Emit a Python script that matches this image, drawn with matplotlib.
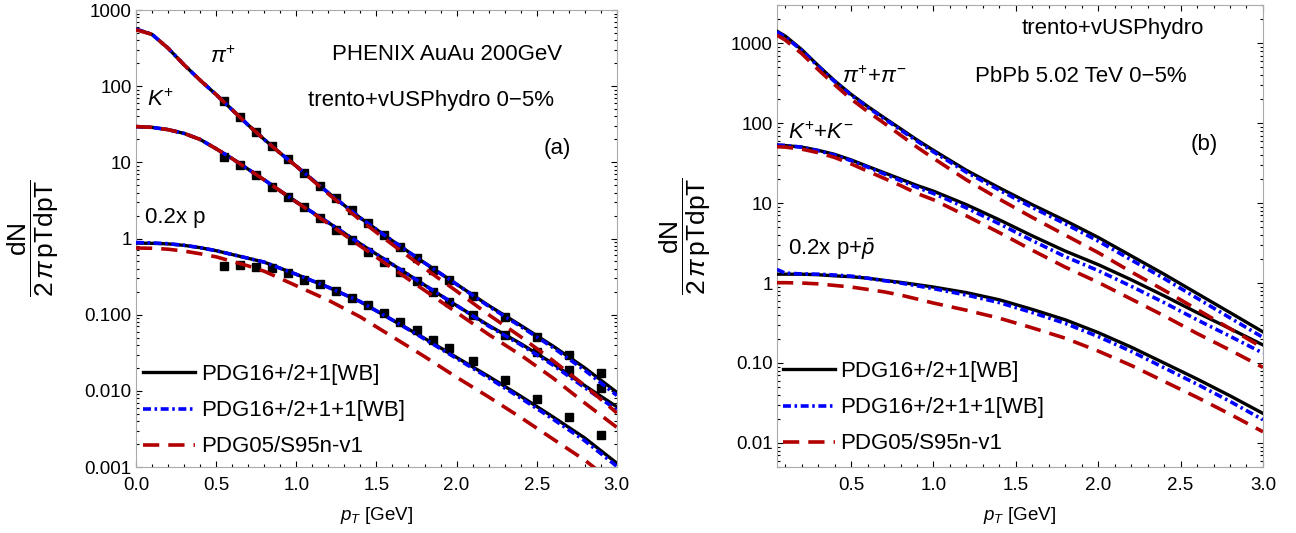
import numpy as np
import matplotlib.pyplot as plt
from matplotlib.ticker import MultipleLocator, LogLocator, NullFormatter

plt.rcParams['font.family'] = 'Liberation Sans'
plt.rcParams['mathtext.fontset'] = 'custom'
plt.rcParams['mathtext.rm'] = 'Liberation Sans'
plt.rcParams['mathtext.it'] = 'Liberation Sans:italic'
plt.rcParams['mathtext.bf'] = 'Liberation Sans:bold'

# ---------------- panel (a): PHENIX AuAu 200 GeV ----------------
pt_a = [0.0, 0.1, 0.2, 0.3, 0.4, 0.5, 0.6, 0.7, 0.8, 0.9, 1.0,
        1.2, 1.4, 1.6, 1.8, 2.0, 2.2, 2.4, 2.6, 2.8, 3.0]

pi_a_wb = [562, 479, 316, 191, 120, 77.6, 49.0, 30.9, 20.0, 13.2, 8.91,
           3.98, 1.86, 0.933, 0.479, 0.251, 0.132, 0.0724, 0.0389, 0.0200, 0.00955]
pi_a_wb1 = [562, 479, 316, 191, 120, 77.6, 49.0, 30.9, 20.0, 13.2, 8.91,
            3.98, 1.86, 0.933, 0.479, 0.251, 0.129, 0.0700, 0.0372, 0.0186, 0.0087]
pi_a_s95 = [550, 479, 316, 191, 120, 77.6, 49.0, 30.9, 20.0, 13.2, 8.91,
            3.85, 1.74, 0.832, 0.407, 0.204, 0.100, 0.0513, 0.0251, 0.0117, 0.00513]

k_a_wb = [29.5, 28.8, 26.9, 24.0, 20.0, 15.1, 11.2, 8.13, 5.89, 4.22, 3.02,
          1.62, 0.851, 0.457, 0.245, 0.132, 0.0724, 0.0417, 0.0229, 0.0117, 0.00617]
k_a_wb1 = [29.5, 28.8, 26.9, 24.0, 20.0, 15.1, 11.2, 8.13, 5.89, 4.22, 3.02,
           1.62, 0.851, 0.457, 0.245, 0.132, 0.0708, 0.0403, 0.0219, 0.0110, 0.00562]
k_a_s95 = [29.5, 28.8, 26.9, 24.0, 20.0, 15.1, 11.2, 8.13, 5.89, 4.22, 3.02,
           1.57, 0.794, 0.407, 0.209, 0.107, 0.0550, 0.0295, 0.0148, 0.00692, 0.00331]

p_a_wb = [0.871, 0.865, 0.851, 0.813, 0.759, 0.692, 0.617, 0.550, 0.490, 0.407, 0.339,
          0.229, 0.148, 0.0851, 0.0490, 0.0275, 0.0155, 0.00851, 0.00457, 0.00240, 0.00112]
p_a_wb1 = [0.885, 0.875, 0.855, 0.815, 0.759, 0.692, 0.617, 0.550, 0.490, 0.407, 0.339,
           0.229, 0.148, 0.0851, 0.0479, 0.0266, 0.0148, 0.00804, 0.00427, 0.00221, 0.00102]
p_a_s95 = [0.750, 0.745, 0.724, 0.684, 0.631, 0.575, 0.501, 0.437, 0.372, 0.299, 0.240,
           0.155, 0.0933, 0.0513, 0.0282, 0.0151, 0.00832, 0.00447, 0.00234, 0.00123, 0.000575]

# PHENIX data points
pt_data = [0.55, 0.65, 0.75, 0.85, 0.95, 1.05, 1.15, 1.25, 1.35, 1.45,
           1.55, 1.65, 1.75, 1.85, 1.95, 2.1, 2.3, 2.5, 2.7, 2.9]
pi_data = [63.1, 39.8, 25.1, 16.6, 11.0, 7.24, 4.90, 3.39, 2.37, 1.62,
           1.11, 0.783, 0.550, 0.389, 0.286, 0.178, 0.0944, 0.0516, 0.0295, 0.0174]
k_data = [11.9, 9.25, 6.84, 4.80, 3.55, 2.62, 1.85, 1.30, 0.959, 0.673,
          0.498, 0.368, 0.275, 0.200, 0.145, 0.100, 0.0543, 0.0328, 0.0189, 0.0108]
p_data = [0.437, 0.451, 0.427, 0.407, 0.350, 0.288, 0.251, 0.204, 0.164, 0.135,
          0.105, 0.0813, 0.0631, 0.0468, 0.0363, 0.0243, 0.0139, 0.00778, 0.00460, 0.00265]

# ---------------- panel (b): PbPb 5.02 TeV ----------------
pt_b = [0.05, 0.1, 0.2, 0.3, 0.4, 0.5, 0.6, 0.7, 0.8, 0.9, 1.0,
        1.2, 1.4, 1.6, 1.8, 2.0, 2.2, 2.4, 2.6, 2.8, 3.0]

pi_b_wb = [1413, 1230, 832, 525, 339, 229, 162, 117, 85.1, 61.7, 45.7,
           25.7, 15.5, 9.55, 6.03, 3.72, 2.19, 1.29, 0.741, 0.427, 0.245]
pi_b_wb1 = [1380, 1202, 813, 513, 331, 224, 158, 114, 82.2, 59.6, 43.7,
            24.3, 14.5, 8.81, 5.50, 3.35, 1.95, 1.14, 0.646, 0.367, 0.209]
pi_b_s95 = [1259, 1096, 741, 468, 302, 200, 140, 100, 70.8, 50.1, 36.3,
            19.5, 11.2, 6.61, 3.98, 2.40, 1.38, 0.813, 0.468, 0.269, 0.155]

k_b_wb = [53.1, 52.5, 50.1, 45.7, 40.7, 34.7, 28.8, 24.0, 20.0, 16.6, 14.1,
          9.55, 6.17, 3.89, 2.51, 1.70, 1.10, 0.692, 0.427, 0.269, 0.168]
k_b_wb1 = [53.1, 52.5, 50.1, 45.2, 39.8, 33.9, 28.2, 23.2, 19.1, 15.7, 13.2,
           8.71, 5.50, 3.39, 2.14, 1.43, 0.912, 0.569, 0.347, 0.216, 0.133]
k_b_s95 = [50.7, 50.1, 47.3, 42.7, 37.2, 30.9, 25.1, 20.4, 16.6, 13.2, 11.0,
           6.92, 4.27, 2.57, 1.58, 1.02, 0.631, 0.389, 0.234, 0.145, 0.0881]

p_b_wb = [1.29, 1.29, 1.29, 1.27, 1.23, 1.20, 1.15, 1.08, 1.02, 0.955, 0.891,
          0.759, 0.617, 0.468, 0.347, 0.240, 0.158, 0.100, 0.0631, 0.0389, 0.0234]
p_b_wb1 = [1.48, 1.33, 1.30, 1.29, 1.26, 1.22, 1.15, 1.07, 1.00, 0.923, 0.851,
           0.708, 0.569, 0.427, 0.313, 0.214, 0.140, 0.0871, 0.0543, 0.0331, 0.0195]
p_b_s95 = [1.01, 1.01, 1.00, 0.977, 0.933, 0.891, 0.832, 0.776, 0.708, 0.631, 0.562,
           0.457, 0.363, 0.275, 0.204, 0.141, 0.0933, 0.0589, 0.0372, 0.0229, 0.0138]

model_names = ['PDG16+/2+1[WB]', 'PDG16+/2+1+1[WB]', 'PDG05/S95n-v1']

BLACK = 'black'
BLUE = '#0000ff'
RED = '#b20000'


def draw_group(ax, pt, wb, wb1, s95, with_label=False):
    ax.plot(pt, wb, color=BLACK, lw=2.4, zorder=3,
            label=model_names[0] if with_label else None)
    ax.plot(pt, wb1, color=BLUE, lw=2.6, dashes=(2.2, 1.0, 0.7, 1.0), zorder=4,
            label=model_names[1] if with_label else None)
    ax.plot(pt, s95, color=RED, lw=2.6, dashes=(4.5, 2.5), zorder=5,
            label=model_names[2] if with_label else None)


def style_axes(ax, xlim, ylim, xticks, yticks, ylabels):
    ax.set_yscale('log')
    ax.set_xlim(*xlim)
    ax.set_ylim(*ylim)
    ax.set_xticks(xticks)
    ax.set_xticklabels(['%.1f' % t for t in xticks])
    ax.xaxis.set_minor_locator(MultipleLocator(0.1))
    ax.set_yticks(yticks)
    ax.set_yticklabels(ylabels)
    ax.yaxis.set_minor_locator(LogLocator(base=10, subs=np.arange(2, 10) * 1.0, numticks=30))
    ax.yaxis.set_minor_formatter(NullFormatter())
    ax.tick_params(which='both', direction='in', top=True, right=True,
                   color='black', width=0.8, labelsize=13.5)
    ax.tick_params(which='major', length=4.5)
    ax.tick_params(which='minor', length=2.5)
    ax.tick_params(axis='x', which='major', pad=7)
    ax.tick_params(axis='y', which='major', pad=3)
    for s in ax.spines.values():
        s.set_color('#aaaaaa')
        s.set_linewidth(0.8)
    ax.set_xlabel(r'$p_T$ [GeV]', fontsize=13.5, labelpad=8)


fig = plt.figure(figsize=(12.96, 5.33), dpi=100)
ax_a = fig.add_axes([0.1049, 0.1238, 0.3711, 0.8574])
ax_b = fig.add_axes([0.5995, 0.1238, 0.3750, 0.8668])

# panel (a)
ax_a.plot(pt_data, pi_data, 's', color='black', ms=5.8, zorder=2)
ax_a.plot(pt_data, k_data, 's', color='black', ms=5.8, zorder=2)
ax_a.plot(pt_data, p_data, 's', color='black', ms=5.8, zorder=2)
draw_group(ax_a, pt_a, pi_a_wb, pi_a_wb1, pi_a_s95, with_label=True)
draw_group(ax_a, pt_a, k_a_wb, k_a_wb1, k_a_s95)
draw_group(ax_a, pt_a, p_a_wb, p_a_wb1, p_a_s95)
style_axes(ax_a, (0.0, 3.0), (0.001, 1000),
           [0.0, 0.5, 1.0, 1.5, 2.0, 2.5, 3.0],
           [0.001, 0.01, 0.1, 1, 10, 100, 1000],
           ['0.001', '0.010', '0.100', '1', '10', '100', '1000'])

fs = 16
ax_a.text(0.647, 0.902, 'PHENIX AuAu 200GeV', transform=ax_a.transAxes,
          fontsize=fs, ha='center', va='center')
ax_a.text(0.613, 0.803, 'trento+vUSPhydro 0\u22125%', transform=ax_a.transAxes,
          fontsize=fs, ha='center', va='center')
ax_a.text(0.877, 0.698, '(a)', transform=ax_a.transAxes,
          fontsize=fs, ha='center', va='center')
ax_a.text(0.154, 0.897, r'$\pi^{+}$', transform=ax_a.transAxes,
          fontsize=fs, ha='left', va='center')
ax_a.text(0.023, 0.803, r'$K^{+}$', transform=ax_a.transAxes,
          fontsize=fs, ha='left', va='center')
ax_a.text(0.019, 0.547, '0.2x p', transform=ax_a.transAxes,
          fontsize=fs, ha='left', va='center')

ax_a.legend(loc='center left', bbox_to_anchor=(0.0146, 0.123), frameon=False,
            fontsize=fs, handlelength=2.35, handletextpad=0.25,
            labelspacing=0.68, borderpad=0, borderaxespad=0)

# panel (b)
draw_group(ax_b, pt_b, pi_b_wb, pi_b_wb1, pi_b_s95, with_label=True)
draw_group(ax_b, pt_b, k_b_wb, k_b_wb1, k_b_s95)
draw_group(ax_b, pt_b, p_b_wb, p_b_wb1, p_b_s95)
style_axes(ax_b, (0.05, 3.0), (0.005, 3000),
           [0.5, 1.0, 1.5, 2.0, 2.5, 3.0],
           [0.01, 0.1, 1, 10, 100, 1000],
           ['0.01', '0.10', '1', '10', '100', '1000'])

ax_b.text(0.692, 0.950, 'trento+vUSPhydro', transform=ax_b.transAxes,
          fontsize=fs, ha='center', va='center')
ax_b.text(0.626, 0.846, 'PbPb 5.02 TeV 0\u22125%', transform=ax_b.transAxes,
          fontsize=fs, ha='center', va='center')
ax_b.text(0.879, 0.697, '(b)', transform=ax_b.transAxes,
          fontsize=fs, ha='center', va='center')
ax_b.text(0.134, 0.844, r'$\pi^{+}$+$\pi^{-}$', transform=ax_b.transAxes,
          fontsize=fs, ha='left', va='center')
ax_b.text(0.023, 0.723, r'$K^{+}$+$K^{-}$', transform=ax_b.transAxes,
          fontsize=fs, ha='left', va='center')
ax_b.text(0.023, 0.470, r'0.2x p+$\bar{p}$', transform=ax_b.transAxes,
          fontsize=fs, ha='left', va='center')

ax_b.legend(loc='center left', bbox_to_anchor=(0.012, 0.128), frameon=False,
            fontsize=fs, handlelength=2.35, handletextpad=0.25,
            labelspacing=0.68, borderpad=0, borderaxespad=0)

# y labels as fractions
ylab = r'$\dfrac{\mathrm{dN}}{2\,\pi\,\mathrm{pTdpT}}$'
fig.text(33 / 1296, 1 - 238.5 / 533, ylab, rotation=90, fontsize=19,
         ha='center', va='center')
fig.text(685 / 1296, 1 - 236 / 533, ylab, rotation=90, fontsize=19,
         ha='center', va='center')

fig.savefig('out.png', dpi=100)
